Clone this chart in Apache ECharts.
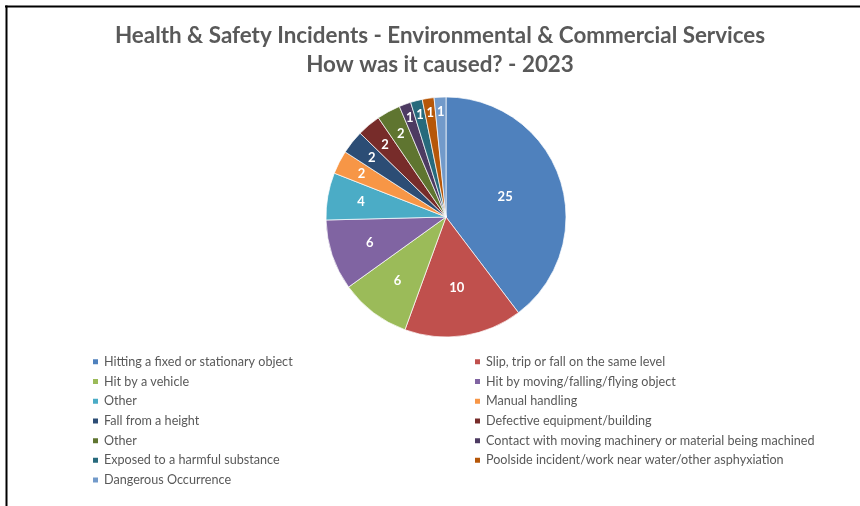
<!DOCTYPE html>
<html>
<head>
<meta charset="utf-8">
<script src="https://cdn.jsdelivr.net/npm/echarts@6/dist/echarts.min.js"></script>
<style>
html,body{margin:0;padding:0;background:#fff;}
#chart{width:860px;height:506px;}
</style>
</head>
<body>
<div id="chart"></div>
<script>
const titleLines = ['Health & Safety Incidents - Environmental & Commercial Services', 'How was it caused? - 2023'];
const categories = [
  'Hitting a fixed or stationary object',
  'Slip, trip or fall on the same level',
  'Hit by a vehicle',
  'Hit by moving/falling/flying object',
  'Other',
  'Manual handling',
  'Fall from a height',
  'Defective equipment/building',
  'Other ',
  'Contact with moving machinery or material being machined',
  'Exposed to a harmful substance',
  'Poolside incident/work near water/other asphyxiation',
  'Dangerous Occurrence'
];
const values = [25, 10, 6, 6, 4, 2, 2, 2, 2, 1, 1, 1, 1];
const colors = ['#4F81BD','#C0504D','#9BBB59','#8064A2','#4BACC6','#F79646','#2C4D75','#772C2A','#5F7530','#4D3B62','#276A7C','#B65708','#729ACA'];

const CX = 446, CY = 217, R = 120;
const total = values.reduce((a, b) => a + b, 0);
const cum = [];
values.reduce((acc, v, i) => { cum[i] = acc; return acc + v; }, 0);
function labelFrac(v) {
  if (v >= 20) return 0.52;
  if (v >= 10) return 0.6;
  if (v >= 5) return 0.67;
  if (v >= 3) return 0.72;
  if (v >= 2) return 0.79;
  return 0.88;
}

const chart = echarts.init(document.getElementById('chart'), null, {renderer: 'canvas'});
const leftNames = categories.filter((c, i) => i % 2 === 0);
const rightNames = categories.filter((c, i) => i % 2 === 1);
const legendCommon = {
  orient: 'vertical',
  icon: 'rect',
  itemWidth: 7,
  itemHeight: 7,
  itemGap: 6,
  padding: 0,
  top: 355,
  selectedMode: false,
  textStyle: {color: '#595959', fontFamily: 'Lato', fontSize: 12.6, lineHeight: 13.7}
};
chart.setOption({
  backgroundColor: '#fff',
  color: colors,
  animation: false,
  title: {
    text: titleLines.join('\n'),
    left: 440,
    textAlign: 'center',
    top: 21,
    padding: 0,
    textStyle: {color: '#595959', fontFamily: 'Lato', fontWeight: 'bold', fontSize: 22.4, lineHeight: 29}
  },
  legend: [
    Object.assign({}, legendCommon, {left: 91, data: leftNames}),
    Object.assign({}, legendCommon, {left: 473, data: rightNames})
  ],
  graphic: [
    {type: 'line', shape: {x1: 5, y1: 6.5, x2: 860, y2: 6.5}, style: {stroke: '#000', lineWidth: 2}},
    {type: 'line', shape: {x1: 6.5, y1: 5.5, x2: 6.5, y2: 506}, style: {stroke: '#000', lineWidth: 2}}
  ],
  series: [{
    type: 'pie',
    center: [CX, CY],
    radius: R,
    startAngle: 90,
    clockwise: true,
    avoidLabelOverlap: false,
    itemStyle: {borderColor: '#fff', borderWidth: 0.7},
    label: {
      show: true,
      position: 'inside',
      color: '#fff',
      fontFamily: 'Lato',
      fontWeight: 'bold',
      fontSize: 13,
      formatter: '{c}'
    },
    labelLine: {show: false},
    labelLayout: function (p) {
      const i = p.dataIndex;
      const mid = (cum[i] + values[i] / 2) / total * 2 * Math.PI;
      const f = labelFrac(values[i]) * R;
      return {x: CX + f * Math.sin(mid), y: CY - f * Math.cos(mid), align: 'center', verticalAlign: 'middle'};
    },
    emphasis: {disabled: true},
    data: categories.map((c, i) => ({name: c, value: values[i]}))
  }]
});
</script>
</body>
</html>
